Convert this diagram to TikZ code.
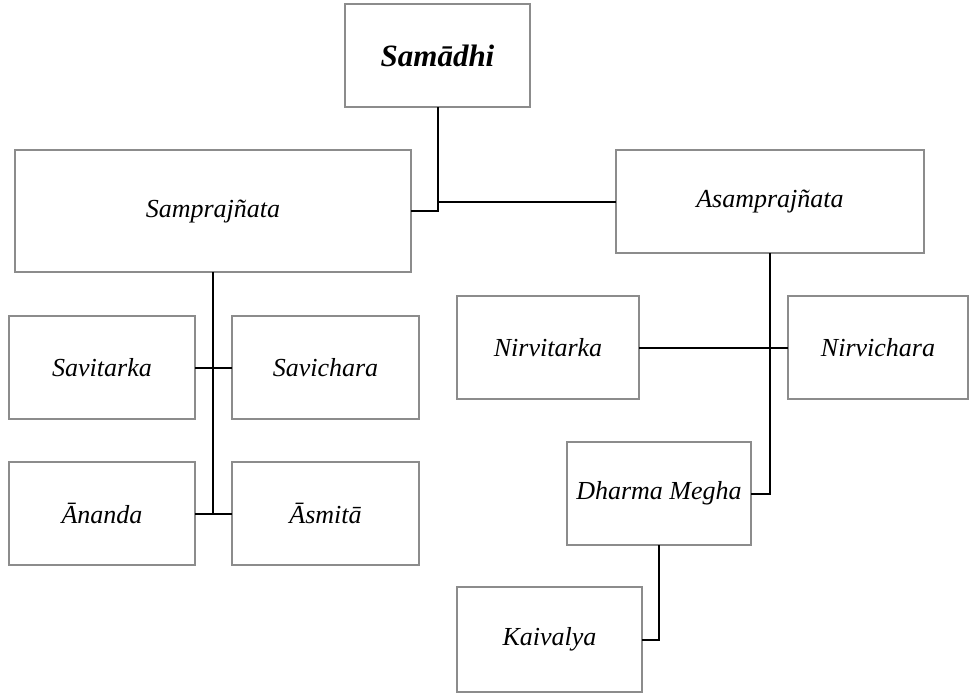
\documentclass[tikz,border=0pt]{standalone}
\usepackage{fontspec}
\setmainfont{Liberation Serif}
\usepackage{xcolor}
\usepackage{tikz}
\usetikzlibrary{positioning, calc}

\begin{document}
\begin{tikzpicture}[x=1pt, y=-1pt]
% style: stageBox_style
\tikzstyle{stageBox_style}=[rectangle,draw=gray!90,line width=1.2pt,fill=white,inner sep=0pt,outer sep=0pt,minimum width=185pt,minimum height=103pt,font=\fontsize{26}{30}\selectfont\itshape]
% style: rootBox_style
\tikzstyle{rootBox_style}=[stageBox_style,font=\fontsize{31}{36}\selectfont\bfseries\itshape]
% style: defaultEdge
\tikzstyle{defaultEdge}=[black,line width=2pt]

\useasboundingbox (0,0) rectangle (969,694);

% node group: samadhi_group
% node: samadhi
\node[rootBox_style] (samadhi) at (437.5, 55.5) {Samādhi};
% end of node group: samadhi_group

% node group: samprajnata_group
% node: samprajnata
\node[stageBox_style, minimum width=396pt, minimum height=122pt] (samprajnata) at (213, 211) {Samprajñata};
% node: savitarka
\node[stageBox_style, minimum width=186pt] (savitarka) at (102, 367.5) {Savitarka};
% node: savichara
\node[stageBox_style, minimum width=187pt] (savichara) at (325.5, 367.5) {Savichara};
% node: ananda
\node[stageBox_style, minimum width=186pt] (ananda) at (102, 513.5) {Ānanda};
% node: asmita
\node[stageBox_style, minimum width=187pt] (asmita) at (325.5, 513.5) {Āsmitā};
% end of node group: samprajnata_group

% node group: asamprajnata_group
% node: asamprajnata
\node[stageBox_style, minimum width=308pt] (asamprajnata) at (770, 201.5) {Asamprajñata};
% node: nirvitarka
\node[stageBox_style, minimum width=182pt] (nirvitarka) at (548, 347.5) {Nirvitarka};
% node: nirvichara
\node[stageBox_style, minimum width=180pt] (nirvichara) at (878, 347.5) {Nirvichara};
% node: dharma_megha
\node[stageBox_style, minimum width=184pt] (dharma_megha) at (659, 493.5) {Dharma Megha};
% node: kaivalya
\node[stageBox_style, minimum height=105pt] (kaivalya) at (549.5, 639.5) {Kaivalya};
% end of node group: asamprajnata_group

% edge from samadhi to asamprajnata
\draw[defaultEdge] (samadhi.south) |- (asamprajnata.west);

% edge from samadhi to samprajnata
\draw[defaultEdge] (samadhi.south) |- (samprajnata.east);

% edge from samprajnata down its stem
\coordinate (samprajnata_stem) at (samprajnata.south |- ananda.east);
\draw[defaultEdge] (samprajnata.south) -- (samprajnata_stem);

% edge from savitarka to savichara
\draw[defaultEdge] (savitarka.east) -- (savichara.west);

% edge from ananda to asmita
\draw[defaultEdge] (ananda.east) -- (asmita.west);

% edge from asamprajnata to dharma_megha
\draw[defaultEdge] (asamprajnata.south) |- (dharma_megha.east);

% edge from nirvitarka to nirvichara
\draw[defaultEdge] (nirvitarka.east) -- (nirvichara.west);

% edge from dharma_megha to kaivalya
\draw[defaultEdge] (dharma_megha.south) |- (kaivalya.east);

\end{tikzpicture}
\end{document}
